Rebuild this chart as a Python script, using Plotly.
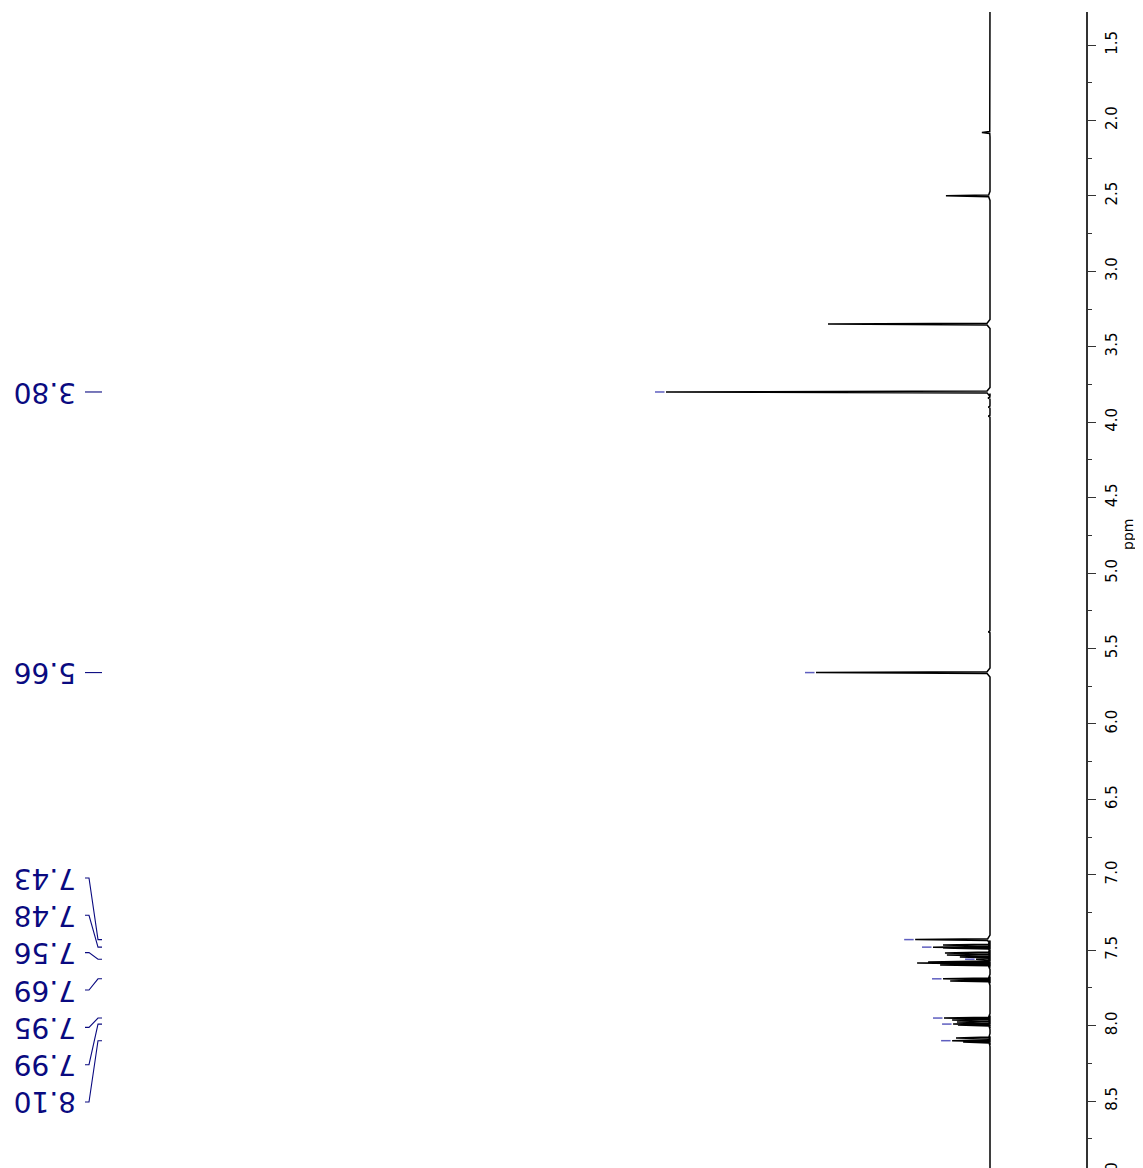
import plotly.graph_objects as go

# ---------------- data ----------------
peak_ppm = [2.08, 2.50, 3.35, 3.80, 3.84, 3.90, 3.96, 5.39, 5.66,
            7.43, 7.466, 7.48, 7.486, 7.519, 7.532, 7.545, 7.56, 7.578, 7.585, 7.598,
            7.69, 7.704, 7.95, 7.963, 7.976, 7.99, 7.996, 8.082, 8.10, 8.109]
peak_int = [2.5, 13.6, 50.0, 100.0, 0.6, 0.5, 0.5, 0.5, 53.7,
            23.1, 14.5, 17.6, 14.5, 13.9, 13.3, 9.3, 4.3, 19.1, 22.5, 15.4,
            14.5, 12.3, 14.2, 11.7, 10.2, 11.4, 9.9, 10.5, 11.7, 8.3]

label_ppm = [3.80, 5.66, 7.43, 7.48, 7.56, 7.69, 7.95, 7.99, 8.10]
label_txt = ["3.80", "5.66", "7.43", "7.48", "7.56", "7.69", "7.95", "7.99", "8.10"]

tick_vals = [1.5, 2.0, 2.5, 3.0, 3.5, 4.0, 4.5, 5.0, 5.5, 6.0, 6.5, 7.0, 7.5, 8.0, 8.5, 9.0]
tick_text = ["1.5", "2.0", "2.5", "3.0", "3.5", "4.0", "4.5", "5.0", "5.5", "6.0",
             "6.5", "7.0", "7.5", "8.0", "8.5", "9.0"]

# ---------------- geometry helpers ----------------
OFF = 8                  # page body margin
W, H = 1143, 1180
AXIS_X = 1086 - OFF      # figure pixel x of the ppm axis
BASE_X = 990 - OFF       # figure pixel x of zero intensity
TOP_Y = 12 - OFF
PX_PER_UNIT = 3.24
PX_PER_PPM = 150.86
PPM_TOP = 1.5 - (45 - 12) / PX_PER_PPM
PPM_BOT = PPM_TOP + (H - TOP_Y) / PX_PER_PPM

x_left = BASE_X / PX_PER_UNIT
x_right = (BASE_X - AXIS_X) / PX_PER_UNIT


def px2paper(screen_px):
    return (screen_px - OFF) / AXIS_X


# build spectrum trace from peak list (narrow spikes with a small base flare)
order = sorted(range(len(peak_ppm)), key=lambda i: peak_ppm[i])
ys = [PPM_TOP - 0.1]
xs = [0.0]
for i in order:
    p, h = peak_ppm[i], peak_int[i]
    fl = min(0.9, h * 0.03)
    ys += [p - 0.03, p - 0.006, p, p + 0.006, p + 0.03]
    xs += [0.0, fl, h, fl, 0.0]
ys.append(PPM_BOT + 0.1)
xs.append(0.0)

fig = go.Figure()
fig.add_trace(go.Scatter(x=xs, y=ys, mode="lines",
                         line=dict(color="black", width=1.5),
                         hoverinfo="skip", showlegend=False))

# peak marker dashes (blue) just beyond each labelled peak tip
for lp in label_ppm:
    j = min(range(len(peak_ppm)), key=lambda k: abs(peak_ppm[k] - lp))
    h = peak_int[j]
    fig.add_trace(go.Scatter(x=[h + 1.5 / PX_PER_UNIT, h + 11 / PX_PER_UNIT], y=[lp, lp],
                             mode="lines", line=dict(color="rgba(40,40,170,0.75)", width=1.5),
                             hoverinfo="skip", showlegend=False))

# label positions: single labels at the peak, clustered ones spread evenly
spacing = 37.35 / PX_PER_PPM
cluster = [p for p in label_ppm if p > 7.0]
center = 7.764
label_pos = []
ci = 0
for p in label_ppm:
    if p > 7.0:
        label_pos.append(center + (ci - (len(cluster) - 1) / 2) * spacing)
        ci += 1
    else:
        label_pos.append(p)

annotations = []
shapes = []
navy = "#0a0a80"
for p, lp, t in zip(label_ppm, label_pos, label_txt):
    annotations.append(dict(x=px2paper(45), xref="paper", y=lp, yref="y",
                            text=t, textangle=180, showarrow=False,
                            xanchor="center", yanchor="middle", yshift=0,
                            font=dict(family="DejaVu Sans", size=28, color=navy)))
    path = "M {:.5f},{:.4f} L {:.5f},{:.4f} L {:.5f},{:.4f} L {:.5f},{:.4f}".format(
        px2paper(85), lp, px2paper(89), lp, px2paper(98), p, px2paper(102), p)
    shapes.append(dict(type="path", path=path, xref="paper", yref="y",
                       line=dict(color=navy, width=1.1)))

annotations.append(dict(x=px2paper(1128), xref="paper",
                        y=1.5 + (535 - 45) / PX_PER_PPM, yref="y",
                        text="ppm", textangle=-90, showarrow=False,
                        xanchor="center", yanchor="middle",
                        font=dict(family="DejaVu Sans", size=14, color="black")))

fig.update_layout(
    width=W, height=H,
    margin=dict(l=0, r=W - AXIS_X, t=TOP_Y, b=0),
    plot_bgcolor="white", paper_bgcolor="white",
    xaxis=dict(range=[x_left, x_right], visible=False, showgrid=False, zeroline=False),
    yaxis=dict(range=[PPM_BOT, PPM_TOP], side="right", showgrid=False, zeroline=False,
               showline=True, linecolor="#333333", linewidth=1.5,
               tickmode="array", tickvals=tick_vals, ticktext=tick_text,
               ticks="outside", ticklen=8, tickwidth=1.2, tickcolor="#333333",
               tickangle=-90, ticklabelstandoff=3,
               tickfont=dict(family="DejaVu Sans", size=15, color="black"),
               minor=dict(dtick=0.25, ticks="outside", ticklen=4, tickwidth=1.2,
                          tickcolor="#333333", showgrid=False)),
    annotations=annotations,
    shapes=shapes,
)

fig.write_html("out.html")
